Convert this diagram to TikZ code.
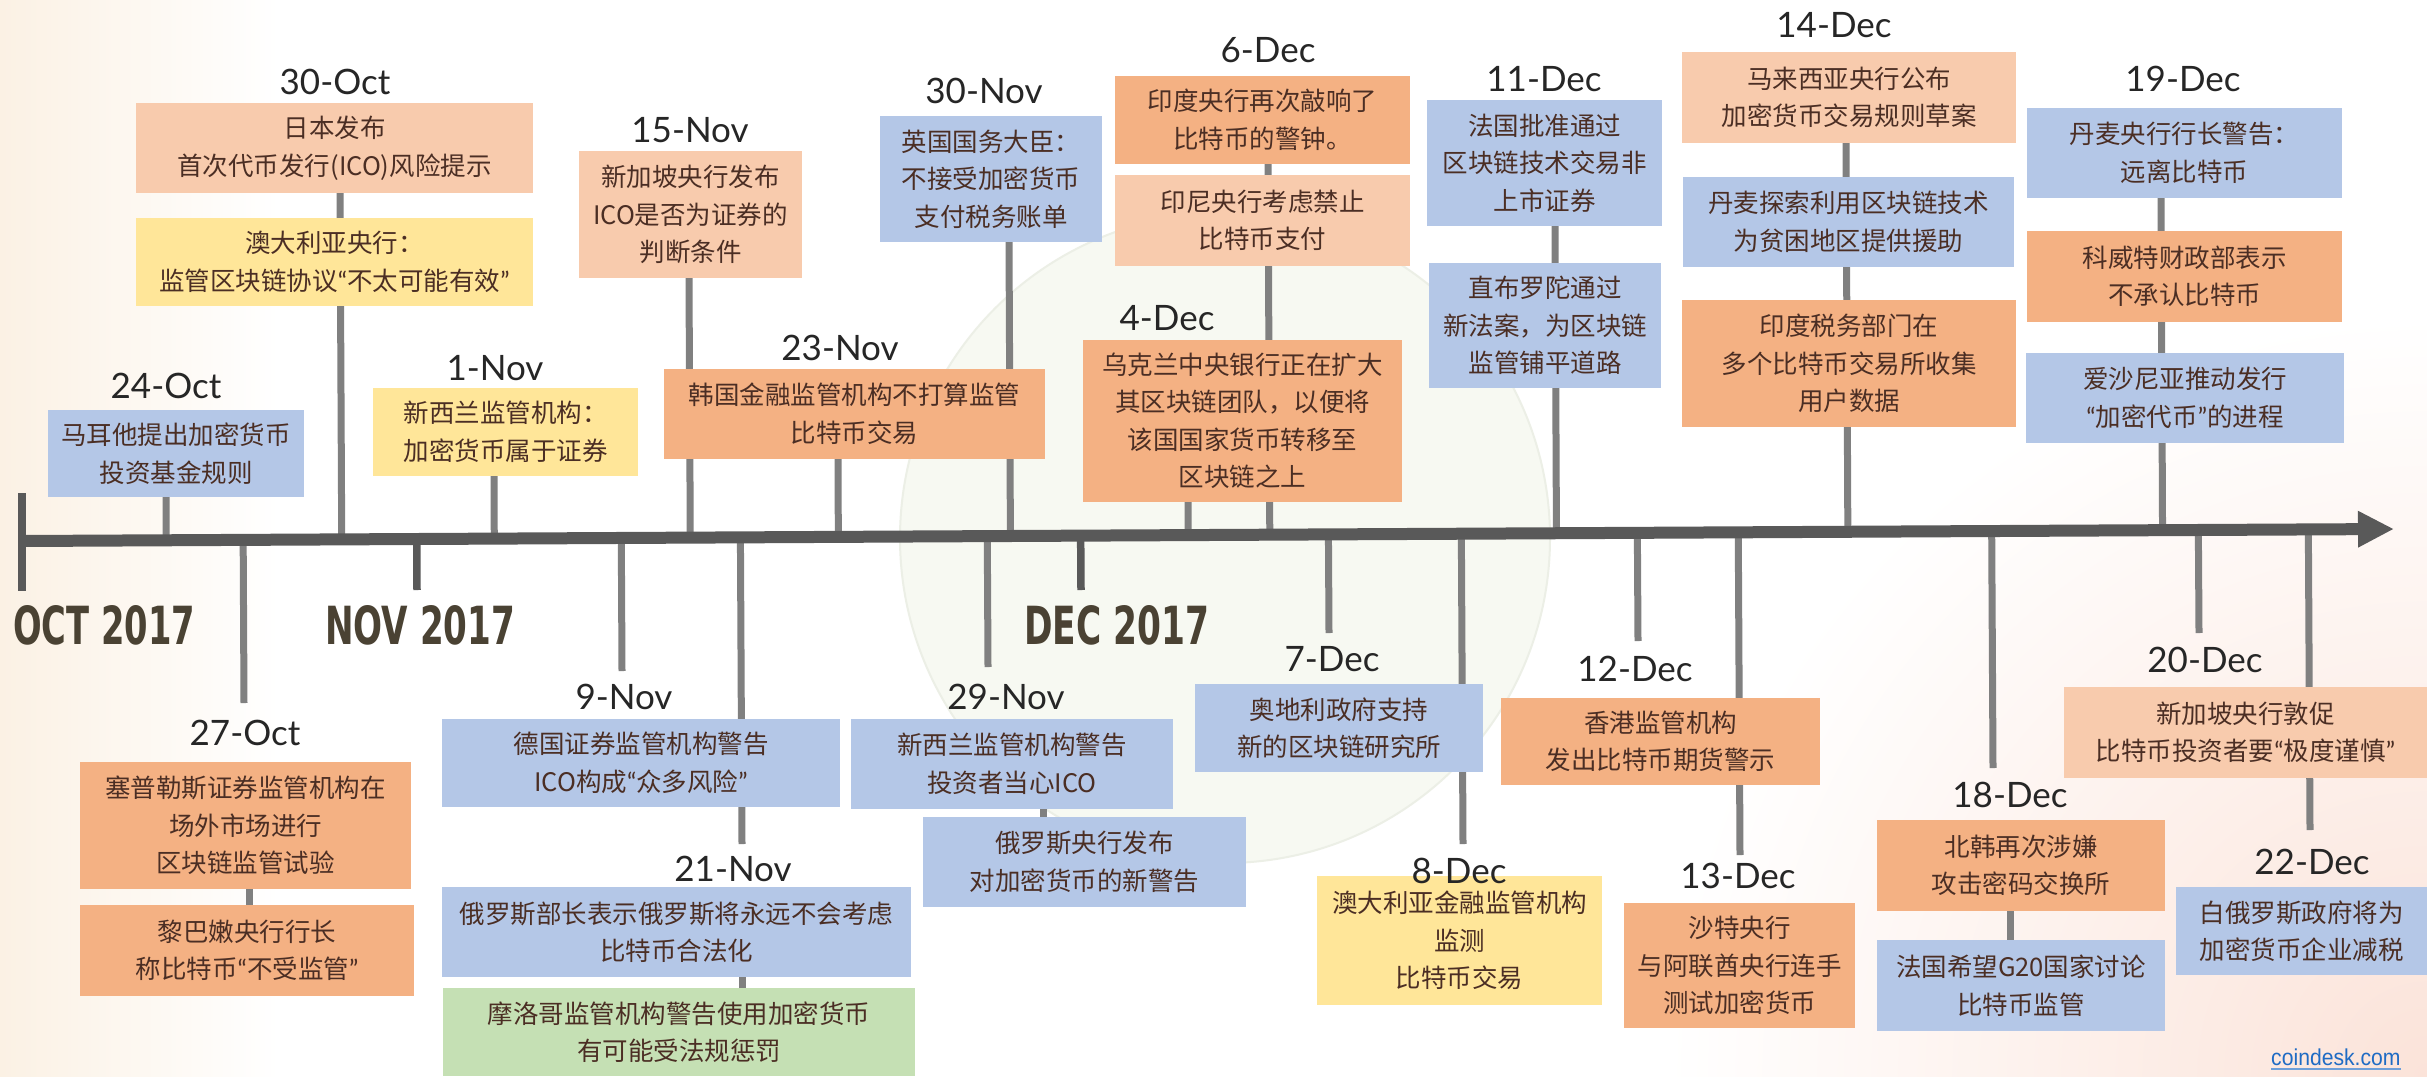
\documentclass[tikz,border=0pt]{standalone}
\usepackage{graphicx}
\usepackage{fontspec}
\newfontfamily\cjkf{Noto Sans CJK SC}
\newfontfamily\datef{Lato}
\newfontfamily\monthf{DejaVu Sans}
\newfontfamily\linkf{Liberation Sans}
\newcommand\qL{{\datef “}}
\newcommand\qR{{\datef ”}}
\usetikzlibrary{calc,arrows.meta}
\pgfdeclarelayer{back}
\pgfdeclarelayer{bg}
\pgfsetlayers{back,bg,main}
\definecolor{cblue}{HTML}{B4C7E7}
\definecolor{corange}{HTML}{F4B183}
\definecolor{cpeach}{HTML}{F8CBAD}
\definecolor{cyellow}{HTML}{FFE699}
\definecolor{cgreen}{HTML}{C5E0B4}
\definecolor{ctext}{HTML}{4B2E24}
\definecolor{cmonth}{HTML}{4A4233}
\definecolor{cstem}{HTML}{808080}
\definecolor{caxis}{HTML}{595959}
\definecolor{clink}{HTML}{1F6BC4}
\definecolor{bgcream}{HTML}{FBF1E4}
\definecolor{bgpink}{HTML}{FBE3D9}
\definecolor{wmfill}{HTML}{F7F9F2}
\definecolor{wmline}{HTML}{ECEFE6}
\newcommand\tlbox[7]{\node[tlb, fill=#6, minimum width={(#4-#2)*1pt}, minimum height={(#5-#3)*1pt}] (#1) at ({(#2+#4)/2},{(#3+#5)/2}) {#7};}
\begin{document}
\begin{tikzpicture}[x=1pt,y=-1pt,
  tlb/.style={rectangle, inner sep=0pt, align=center, text=ctext, font=\cjkf\fontsize{25.5}{37.5}\selectfont},
  tld/.style={inner sep=0pt, text=black!85, font=\datef\fontsize{35}{40}\selectfont},
  stemline/.style={draw=cstem, line width=7pt},
  tickline/.style={draw=caxis, line width=7.5pt},
  axisline/.style={draw=caxis, line width=12pt, -{Triangle[length=36pt,width=34pt]}},
  monthlbl/.style={inner sep=0pt, anchor=north west, text=cmonth}]
\useasboundingbox (0,0) rectangle (2427,1076);

% background
\begin{pgfonlayer}{back}
\begin{scope}
\clip (0,0) rectangle (2427,1076);
\fill[white] (0,0) rectangle (2427,1076);
\shade[left color=bgcream, right color=white] (0,0) rectangle (280,1076);
\shade[inner color=bgpink, outer color=white] (2427,1076) circle (760);
\draw[wmline, fill=wmfill, line width=2pt] (1225,538) circle (325);
\end{scope}
\end{pgfonlayer}

% axis
\coordinate (axL) at (22,541);
\coordinate (axR) at (2394,529);
\draw[axisline] (axL) -- (axR);

% boxes above the axis
\tlbox{b24oct}{48}{410}{304}{497}{cblue}{马耳他提出加密货币\\投资基金规则}
\tlbox{b30octA}{136}{103}{533}{193}{cpeach}{日本发布\\首次代币发行(ICO)风险提示}
\tlbox{b30octB}{136}{218}{533}{306}{cyellow}{澳大利亚央行：\\监管区块链协议\qL 不太可能有效\qR}
\tlbox{b1nov}{373}{388}{638}{476}{cyellow}{新西兰监管机构：\\加密货币属于证券}
\tlbox{b15nov}{579}{151}{802}{278}{cpeach}{新加坡央行发布\\ICO是否为证券的\\判断条件}
\tlbox{b23nov}{664}{369}{1045}{459}{corange}{韩国金融监管机构不打算监管\\比特币交易}
\tlbox{b30nov}{880}{116}{1102}{242}{cblue}{英国国务大臣：\\不接受加密货币\\支付税务账单}
\tlbox{b6decA}{1115}{76}{1410}{164}{corange}{印度央行再次敲响了\\比特币的警钟。}
\tlbox{b6decB}{1115}{175}{1410}{266}{cpeach}{印尼央行考虑禁止\\比特币支付}
\tlbox{b4dec}{1083}{340}{1402}{502}{corange}{乌克兰中央银行正在扩大\\其区块链团队，以便将\\该国国家货币转移至\\区块链之上}
\tlbox{b11decA}{1427}{100}{1662}{226}{cblue}{法国批准通过\\区块链技术交易非\\上市证券}
\tlbox{b11decB}{1429}{263}{1661}{388}{cblue}{直布罗陀通过\\新法案，为区块链\\监管铺平道路}
\tlbox{b14decA}{1682}{52}{2016}{143}{cpeach}{马来西亚央行公布\\加密货币交易规则草案}
\tlbox{b14decB}{1683}{177}{2014}{267}{cblue}{丹麦探索利用区块链技术\\为贫困地区提供援助}
\tlbox{b14decC}{1682}{300}{2016}{427}{corange}{印度税务部门在\\多个比特币交易所收集\\用户数据}
\tlbox{b19decA}{2027}{108}{2342}{198}{cblue}{丹麦央行行长警告：\\远离比特币}
\tlbox{b19decB}{2027}{231}{2342}{322}{corange}{科威特财政部表示\\不承认比特币}
\tlbox{b19decC}{2026}{353}{2344}{443}{cblue}{爱沙尼亚推动发行\\\qL 加密代币\qR 的进程}

% boxes below the axis
\tlbox{b27octA}{80}{762}{411}{889}{corange}{塞普勒斯证券监管机构在\\场外市场进行\\区块链监管试验}
\tlbox{b27octB}{80}{905}{414}{996}{corange}{黎巴嫩央行行长\\称比特币\qL 不受监管\qR}
\tlbox{b9nov}{442}{719}{840}{807}{cblue}{德国证券监管机构警告\\ICO构成\qL 众多风险\qR}
\tlbox{b21novA}{442}{887}{911}{977}{cblue}{俄罗斯部长表示俄罗斯将永远不会考虑\\比特币合法化}
\tlbox{b21novB}{443}{988}{915}{1076}{cgreen}{摩洛哥监管机构警告使用加密货币\\有可能受法规惩罚}
\tlbox{b29novA}{851}{719}{1173}{809}{cblue}{新西兰监管机构警告\\投资者当心ICO}
\tlbox{b29novB}{923}{817}{1246}{907}{cblue}{俄罗斯央行发布\\对加密货币的新警告}
\tlbox{b7dec}{1195}{684}{1483}{772}{cblue}{奥地利政府支持\\新的区块链研究所}
\tlbox{b8dec}{1317}{876}{1602}{1005}{cyellow}{澳大利亚金融监管机构\\监测\\比特币交易}
\tlbox{b12dec}{1501}{698}{1820}{785}{corange}{香港监管机构\\发出比特币期货警示}
\tlbox{b13dec}{1624}{903}{1855}{1028}{corange}{沙特央行\\与阿联酋央行连手\\测试加密货币}
\tlbox{b18decA}{1877}{820}{2165}{911}{corange}{北韩再次涉嫌\\攻击密码交换所}
\tlbox{b18decB}{1877}{940}{2165}{1031}{cblue}{法国希望G20国家讨论\\比特币监管}
\tlbox{b20dec}{2064}{687}{2427}{778}{cpeach}{新加坡央行敦促\\比特币投资者要\qL 极度谨慎\qR}
\tlbox{b22dec}{2176}{887}{2427}{975}{cblue}{白俄罗斯政府将为\\加密货币企业减税}

% date labels
\node[tld] (l24oct) at (166,386) {24-Oct};
\node[tld] (l30oct) at (335,82) {30-Oct};
\node[tld] (l1nov) at (495,368) {1-Nov};
\node[tld] (l15nov) at (690,130) {15-Nov};
\node[tld] (l23nov) at (840,348) {23-Nov};
\node[tld] (l30nov) at (984,91) {30-Nov};
\node[tld] (l4dec) at (1167,318) {4-Dec};
\node[tld] (l6dec) at (1268,50) {6-Dec};
\node[tld] (l11dec) at (1544,79) {11-Dec};
\node[tld] (l14dec) at (1834,25) {14-Dec};
\node[tld] (l19dec) at (2183,79) {19-Dec};
\node[tld] (l27oct) at (245,733) {27-Oct};
\node[tld] (l9nov) at (624,697) {9-Nov};
\node[tld] (l21nov) at (733,869) {21-Nov};
\node[tld] (l29nov) at (1006,697) {29-Nov};
\node[tld] (l7dec) at (1332,659) {7-Dec};
\node[tld] (l8dec) at (1459,871) {8-Dec};
\node[tld] (l12dec) at (1635,669) {12-Dec};
\node[tld] (l13dec) at (1738,876) {13-Dec};
\node[tld] (l18dec) at (2010,795) {18-Dec};
\node[tld] (l20dec) at (2205,660) {20-Dec};
\node[tld] (l22dec) at (2312,862) {22-Dec};

% month labels
\node[monthlbl] (mOct) at (13,605) {\resizebox{182pt}{39pt}{\monthf\bfseries OCT 2017}};
\node[monthlbl] (mNov) at (325,605) {\resizebox{190pt}{39pt}{\monthf\bfseries NOV 2017}};
\node[monthlbl] (mDec) at (1024,605) {\resizebox{185pt}{39pt}{\monthf\bfseries DEC 2017}};

% stem end points below the axis
\coordinate (tOctTop) at (22,493);
\coordinate (tOctBot) at (22,591);
\coordinate (tNov) at (417,590);
\coordinate (tDec) at (1081,590);
\coordinate (e27oct) at (244,703);
\coordinate (e9nov) at (622,671);
\coordinate (e21nov) at (742,844);
\coordinate (e29nov) at (988,667);
\coordinate (e7dec) at (1329,633);
\coordinate (e8dec) at (1463,844);
\coordinate (e12dec) at (1638,641);
\coordinate (e13dec) at (1740,855);
\coordinate (e18dec) at (1993,768);
\coordinate (e20dec) at (2199,633);
\coordinate (e22dec) at (2310,830);

% link
\node[inner sep=0pt, anchor=south west, text=clink, font=\linkf\fontsize{23}{26}\selectfont] (lnk) at (2271,1066) {\scalebox{0.92}[1]{coindesk.com}};
\draw[clink!65, line width=1.5pt] ([yshift=-3pt]lnk.south west) -- ([yshift=-3pt]lnk.south east);

\begin{pgfonlayer}{bg}
% month ticks
\draw[tickline] (tOctTop) -- (tOctBot);
\draw[tickline] (tNov) -- ($(axL)!(tNov)!(axR)$);
\draw[tickline] (tDec) -- ($(axL)!(tDec)!(axR)$);
% stems above
\draw[stemline] ([xshift=-10pt]b24oct.south) -- ($(axL)!([xshift=-10pt]b24oct.south)!(axR)$);
\draw[stemline] ([xshift=5.5pt]b30octA.south) -- ($(axL)!([xshift=5.5pt]b30octA.south)!(axR)$);
\draw[stemline] ([xshift=-11.5pt]b1nov.south) -- ($(axL)!([xshift=-11.5pt]b1nov.south)!(axR)$);
\draw[stemline] ([xshift=-1.5pt]b15nov.south) -- ($(axL)!([xshift=-1.5pt]b15nov.south)!(axR)$);
\draw[stemline] ([xshift=-16.5pt]b23nov.south) -- ($(axL)!([xshift=-16.5pt]b23nov.south)!(axR)$);
\draw[stemline] ([xshift=18pt]b30nov.south) -- ($(axL)!([xshift=18pt]b30nov.south)!(axR)$);
\draw[stemline] ([xshift=-54.5pt]b4dec.south) -- ($(axL)!([xshift=-54.5pt]b4dec.south)!(axR)$);
\draw[stemline] ([xshift=5.5pt]b6decA.south) -- ($(axL)!([xshift=5.5pt]b6decA.south)!(axR)$);
\draw[stemline] ([xshift=10.5pt]b11decA.south) -- ($(axL)!([xshift=10.5pt]b11decA.south)!(axR)$);
\draw[stemline] ([xshift=-3pt]b14decA.south) -- ($(axL)!([xshift=-3pt]b14decA.south)!(axR)$);
\draw[stemline] ([xshift=-23.5pt]b19decA.south) -- ($(axL)!([xshift=-23.5pt]b19decA.south)!(axR)$);
% stems below
\draw[stemline] (e27oct) -- ($(axL)!(e27oct)!(axR)$);
\draw[stemline] (e9nov) -- ($(axL)!(e9nov)!(axR)$);
\draw[stemline] (e21nov) -- ($(axL)!(e21nov)!(axR)$);
\draw[stemline] (e29nov) -- ($(axL)!(e29nov)!(axR)$);
\draw[stemline] (e7dec) -- ($(axL)!(e7dec)!(axR)$);
\draw[stemline] (e8dec) -- ($(axL)!(e8dec)!(axR)$);
\draw[stemline] (e12dec) -- ($(axL)!(e12dec)!(axR)$);
\draw[stemline] (e13dec) -- ($(axL)!(e13dec)!(axR)$);
\draw[stemline] (e18dec) -- ($(axL)!(e18dec)!(axR)$);
\draw[stemline] (e20dec) -- ($(axL)!(e20dec)!(axR)$);
\draw[stemline] (e22dec) -- ($(axL)!(e22dec)!(axR)$);
% connectors between stacked boxes below
\draw[stemline] ([xshift=3.5pt]b27octA.south) -- ([xshift=3.5pt]b27octA.south |- b27octB.north);
\draw[stemline] ([xshift=65.5pt]b21novA.south) -- ([xshift=65.5pt]b21novA.south |- b21novB.north);
\draw[stemline] ([xshift=31pt]b29novA.south) -- ([xshift=31pt]b29novA.south |- b29novB.north);
\draw[stemline] ([xshift=-11pt]b18decA.south) -- ([xshift=-11pt]b18decA.south |- b18decB.north);
\end{pgfonlayer}
\end{tikzpicture}
\end{document}
